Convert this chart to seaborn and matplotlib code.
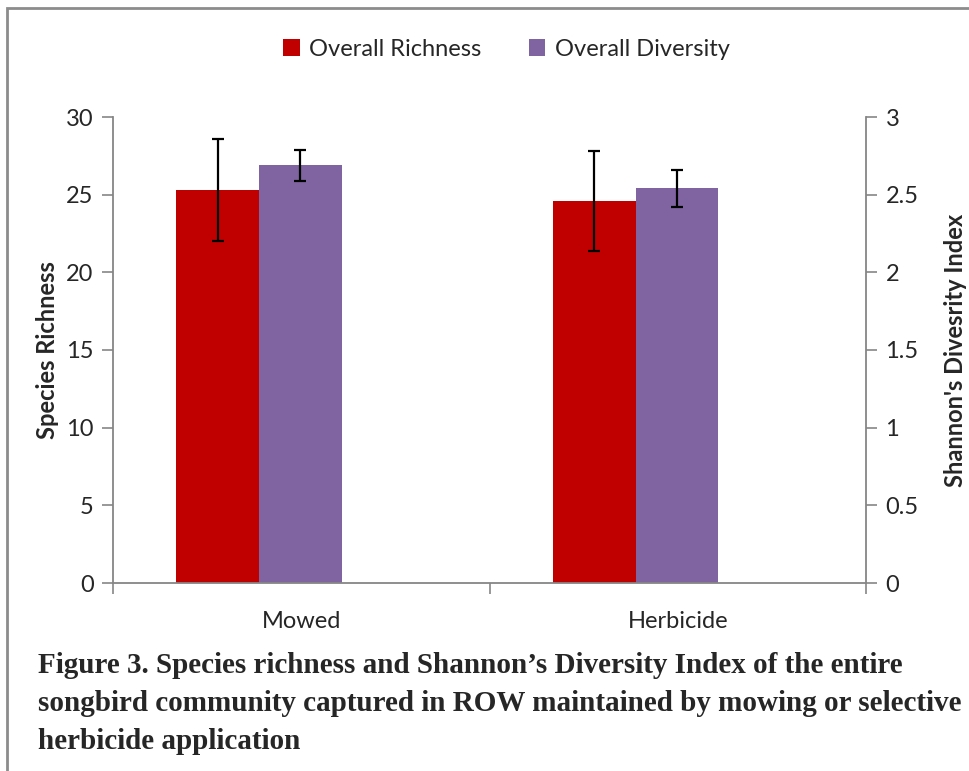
import numpy as np
import pandas as pd
import matplotlib.pyplot as plt
import seaborn as sns
from matplotlib.patches import Patch, Rectangle
from matplotlib.ticker import FuncFormatter, FixedLocator

sites = ["Mowed", "Herbicide"]
measures = ["Overall Richness", "Overall Diversity"]
richness = [25.3, 24.6]
richness_err = [3.3, 3.2]
diversity = [2.69, 2.54]
diversity_err = [0.10, 0.12]

colors = ["#C00000", "#8064A2"]
axis_grey = "#868686"
scale = 10.0  # diversity plotted on primary axis x10

df = pd.DataFrame({
    "site": sites * 2,
    "measure": [measures[0]] * 2 + [measures[1]] * 2,
    "value": richness + [d * scale for d in diversity],
    "err": richness_err + [e * scale for e in diversity_err],
})

sns.set_theme(style="white")
plt.rcParams["font.family"] = ["Lato", "DejaVu Sans"]

fig = plt.figure(figsize=(9.7, 7.71), dpi=100)
ax = fig.add_axes([113 / 970, 1 - 583 / 771, (866 - 113) / 970, (583 - 117) / 771])

sns.barplot(
    data=df, x="site", y="value", hue="measure", order=sites, hue_order=measures,
    palette=colors, width=0.44, saturation=1, linewidth=0, errorbar=None,
    legend=False, ax=ax,
)

# error bars on each bar, taken from the bar positions seaborn drew
for container, m in zip(ax.containers, measures):
    sub = df[df["measure"] == m].set_index("site").loc[sites]
    xs = [p.get_x() + p.get_width() / 2 for p in container]
    hs = [p.get_height() for p in container]
    ax.errorbar(xs, hs, yerr=sub["err"].values, fmt="none", ecolor="black",
                elinewidth=1.6, capsize=4.5, capthick=1.6, zorder=5)

# Excel places the bar group left of the category centre
shift = 0.112
ax.set_xlim(shift - 0.5, shift + 1.5)
ax.set_ylim(0, 30)
ax.set_yticks(np.arange(0, 31, 5))
ax.set_xticks([shift, 1 + shift])
ax.set_xticklabels(sites)
ax.xaxis.set_minor_locator(FixedLocator([shift - 0.5, shift + 0.5, shift + 1.5]))
ax.tick_params(axis="x", which="major", length=0, pad=20, labelsize=17)
ax.tick_params(axis="x", which="minor", length=8, width=1.2, color=axis_grey, direction="out", bottom=True)
ax.tick_params(axis="y", which="major", length=8, width=1.2, color=axis_grey, direction="out",
               left=True, labelsize=17, pad=6)
ax.set_xlabel("")
ax.set_ylabel("Species Richness", fontsize=17, fontweight="bold", labelpad=5)

for side in ["top", "right"]:
    ax.spines[side].set_visible(False)
for side in ["left", "bottom", "right"]:
    ax.spines[side].set_color(axis_grey)
    ax.spines[side].set_linewidth(1.3)

sec = ax.secondary_yaxis("right", functions=(lambda v: v / scale, lambda v: v * scale))
sec.set_yticks(np.arange(0, 3.01, 0.5))
sec.yaxis.set_major_formatter(FuncFormatter(lambda v, p: f"{v:g}"))
sec.tick_params(axis="y", length=8, width=1.2, color=axis_grey, direction="out", labelsize=17, pad=6)
sec.spines["right"].set_color(axis_grey)
sec.spines["right"].set_linewidth(1.3)
sec.set_ylabel("Shannon's Divesrity Index", fontsize=17, fontweight="bold", labelpad=18)

handles = [Patch(facecolor=c, edgecolor="none") for c in colors]
fig.legend(handles, measures, loc="center", bbox_to_anchor=(0.522, 1 - 49 / 771), ncol=2,
           frameon=False, fontsize=17, handlelength=0.7, handleheight=0.7,
           handletextpad=0.4, columnspacing=2.0)

fig.text(38 / 970, 1 - 652 / 771,
         "Figure 3. Species richness and Shannon\u2019s Diversity Index of the entire\n"
         "songbird community captured in ROW maintained by mowing or selective\n"
         "herbicide application",
         family=["Liberation Serif", "DejaVu Serif"], fontweight="bold", fontsize=21,
         va="top", ha="left", linespacing=1.52)

fig.patches.append(Rectangle((7 / 970, -0.1), 1.2, 1 - 8 / 771 + 0.1, transform=fig.transFigure,
                             fill=False, edgecolor="#8c8c8c", linewidth=2))

fig.savefig("out.png", dpi=100)
plt.close(fig)
